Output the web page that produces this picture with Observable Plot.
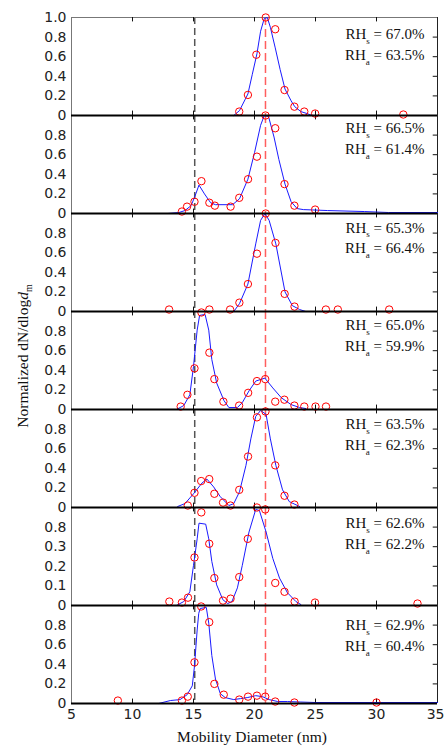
<!DOCTYPE html>
<html><head><meta charset="utf-8">
<script src="https://cdn.jsdelivr.net/npm/d3@7"></script>
<script src="https://cdn.jsdelivr.net/npm/@observablehq/plot@0.6"></script>
<style>body{margin:0;background:#fff} #wrap{position:relative;width:444px;height:751px}</style>
</head><body><div id="wrap"></div><script>
// ---- data ----
const panels = [1,2,3,4,5,6,7];
const rhS = ["67.0%","66.5%","65.3%","65.0%","63.5%","62.6%","62.9%"];
const rhA = ["63.5%","61.4%","66.4%","59.9%","62.3%","62.2%","60.4%"];
const xTicks = [5,10,15,20,25,30,35];
const yTicks = [0,0.2,0.4,0.6,0.8,1.0];
const yTickLabels = ["0","0.2","0.4","0.6","0.8","1.0"];
const yTickLabelsP6 = ["0","0.1","0.2","0.3","0.8"];
const refLineGray = [15.1];
const refLineRed = [20.9];

const p1CircX = [18.75,19.46,20.15,20.92,21.7,22.46,23.27,24.08,24.97,32.2];
const p1CircY = [0.04,0.21,0.62,1.0,0.88,0.26,0.09,0.04,0.02,0.01];
const p1LineX = [18.3,18.77,19.46,19.82,20.2,20.5,20.8,21.05,21.3,21.7,22.1,22.5,23.0,23.3,23.8,24.3,24.7];
const p1LineY = [0,0.05,0.22,0.42,0.63,0.86,0.99,1.0,0.9,0.69,0.47,0.27,0.15,0.09,0.04,0.02,0];

const p2CircX = [14.05,14.47,15.08,15.65,16.3,16.75,18.04,18.75,19.47,20.2,20.9,21.7,22.46,23.27,24.97];
const p2CircY = [0.02,0.07,0.12,0.33,0.11,0.08,0.07,0.16,0.35,0.58,1.0,0.87,0.30,0.08,0.04];
const p2LineX = [12.9,13.8,14.3,14.8,15.1,15.45,15.9,16.4,16.8,17.5,18.2,18.77,19.46,20.0,20.5,20.8,21.15,21.6,22.0,22.5,23.0,23.5,24.0,26.0,29.0,31.0,35.0];
const p2LineY = [0,0.01,0.03,0.08,0.17,0.29,0.2,0.11,0.09,0.09,0.09,0.15,0.35,0.62,0.9,1.0,0.99,0.78,0.55,0.3,0.12,0.05,0.04,0.03,0.02,0.01,0.01];

const p3CircX = [13.0,18.0,18.76,19.46,20.2,20.92,21.72,22.47,23.28,25.85,26.83,31.04];
const p3CircY = [0.02,0.02,0.09,0.28,0.59,1.0,0.70,0.18,0.05,0.02,0.02,0.02];
const p3LineX = [18.3,18.77,19.46,20.1,20.5,20.85,21.2,21.75,22.5,23.1,23.7,24.2];
const p3LineY = [0,0.08,0.28,0.69,0.93,1.0,0.93,0.69,0.2,0.06,0.02,0];

const p4CircX = [13.95,14.5,15.08,15.65,16.3,16.3,16.71,17.45,18.74,19.48,20.2,20.88,21.7,22.45,23.27,24.08,25.0,25.86];
const p4CircY = [0.03,0.15,0.42,0.99,1.02,0.58,0.31,0.08,0.04,0.17,0.29,0.31,0.08,0.10,0.04,0.03,0.03,0.03];
const p4LineX = [13.6,14.2,14.7,15.0,15.3,15.5,15.95,16.25,16.5,16.9,17.5,17.9,18.6,19.0,19.55,20.1,20.85,21.5,22.2,23.0,23.7,24.2];
const p4LineY = [0,0.04,0.15,0.44,0.81,0.96,0.97,0.81,0.51,0.27,0.09,0.02,0.02,0.07,0.19,0.29,0.32,0.22,0.12,0.05,0.02,0.01];

const p5CircX = [14.53,15.08,15.63,16.29,16.71,17.42,18.03,18.75,19.47,20.2,20.9,21.7,22.46,23.27];
const p5CircY = [0.02,0.15,0.27,0.29,0.14,0.05,0.02,0.18,0.52,0.92,0.98,0.43,0.12,0.03];
const p5LineX = [13.7,14.3,15.0,15.7,16.1,16.65,17.2,17.9,18.3,18.77,19.3,19.7,20.1,20.5,20.95,21.3,21.75,22.3,22.85,23.7];
const p5LineY = [0.01,0.04,0.14,0.25,0.29,0.21,0.11,0.02,0.04,0.16,0.43,0.70,0.93,0.99,0.95,0.70,0.43,0.18,0.06,0.01];

const p6CircX = [13.02,14.05,14.55,15.08,15.64,16.29,16.71,17.42,18.04,18.75,19.45,20.2,20.88,21.7,22.46,23.29,24.96,33.36];
const p6CircY = [0.04,0.03,0.08,0.49,0.95,0.63,0.28,0.05,0.07,0.29,0.68,1.0,0.98,0.23,0.14,0.04,0.03,0.02];
const p6LineX = [13.6,14.2,14.7,15.0,15.3,15.45,16.0,16.25,16.5,16.9,17.4,17.8,18.15,18.6,19.0,19.55,20.1,20.4,20.95,21.5,22.05,22.7,23.4,23.8];
const p6LineY = [0,0.04,0.14,0.41,0.68,0.84,0.83,0.68,0.45,0.21,0.06,0.02,0.04,0.18,0.41,0.75,0.98,0.97,0.75,0.48,0.28,0.13,0.04,0.01];

const p7CircX = [8.8,14.05,14.53,15.08,15.63,16.29,16.71,17.48,18.75,19.47,20.2,20.88,21.7,23.27,30.0];
const p7CircY = [0.03,0.03,0.07,0.42,0.99,0.83,0.20,0.09,0.04,0.07,0.08,0.07,0.02,0.01,0.01];
const p7LineX = [12.15,13.1,13.9,14.48,14.9,15.08,15.3,15.43,15.55,16.05,16.25,16.5,16.8,17.2,17.6,18.3,18.85,19.4,20.1,20.65,21.2,21.9,22.7,23.8,25.0,35.0];
const p7LineY = [0,0.03,0.04,0.09,0.18,0.38,0.75,0.92,0.97,0.98,0.82,0.49,0.25,0.10,0.06,0.04,0.05,0.06,0.08,0.07,0.04,0.02,0.02,0.015,0.01,0.01];

// ---- layout (not data) ----
const W = 444, H = 751, mL = 71, mR = 7, mT = 14, mB = 46;
const facetH = (H - mT - mB) / panels.length;
const rhOffsetPx = [17,13,14.3,14,15,16,20.3];

// ---- build tables ----
const circX = [p1CircX,p2CircX,p3CircX,p4CircX,p5CircX,p6CircX,p7CircX];
const circY = [p1CircY,p2CircY,p3CircY,p4CircY,p5CircY,p6CircY,p7CircY];
const lineX = [p1LineX,p2LineX,p3LineX,p4LineX,p5LineX,p6LineX,p7LineX];
const lineY = [p1LineY,p2LineY,p3LineY,p4LineY,p5LineY,p6LineY,p7LineY];
const circleRows = [], lineRows = [], tickRows = [], rhRows = [];
panels.forEach((p, i) => {
  circX[i].forEach((x, j) => circleRows.push({panel: p, x, y: circY[i][j]}));
  lineX[i].forEach((x, j) => lineRows.push({panel: p, x, y: lineY[i][j]}));
  const labels = p === 6 ? yTickLabelsP6 : (p === 1 ? yTickLabels : yTickLabels.slice(0, 5));
  labels.forEach((lab, j) => tickRows.push({panel: p, v: yTicks[j], label: lab}));
  rhRows.push({panel: p, text: "RHs = " + rhS[i], y: 1 - rhOffsetPx[i] / facetH});
  rhRows.push({panel: p, text: "RHa = " + rhA[i], y: 1 - (rhOffsetPx[i] + 20.5) / facetH});
});
const lastPanel = panels[panels.length - 1];
const xLabelRows = xTicks.slice(0, -1).map(v => ({panel: lastPanel, v, label: String(v)}));
const xLabelLast = xTicks.slice(-1).map(v => ({panel: lastPanel, v, label: String(v)}));

const innerXTicks = xTicks.slice(1, -1);
const chart = Plot.plot({
  width: W, height: H,
  marginLeft: mL, marginRight: mR, marginTop: mT, marginBottom: mB,
  style: {fontFamily: "'DejaVu Sans', sans-serif", fontSize: "14px", background: "white", overflow: "visible", color: "#222"},
  x: {domain: [5, 35], axis: null},
  y: {domain: [0, 1], axis: null},
  fy: {domain: panels, axis: null, padding: 0},
  marks: [
    Plot.ruleX(refLineGray, {stroke: "#555", strokeWidth: 1.5, strokeDasharray: "7,4"}),
    Plot.ruleX(refLineRed, {stroke: "#ff5f5f", strokeWidth: 1.5, strokeDasharray: "8,4"}),
    Plot.ruleX([5], {stroke: "#777", strokeWidth: 1}),
    Plot.ruleX([35], {stroke: "#222", strokeWidth: 1}),
    Plot.ruleY([{panel: 1}], {fy: "panel", y: () => 1, stroke: "#777", strokeWidth: 1}),
    Plot.ruleX(innerXTicks, {y1: 0, y2: 0.045, stroke: "#111"}),
    Plot.ruleX(innerXTicks, {y1: 1, y2: 0.955, stroke: "#111"}),
    Plot.ruleY([0.2, 0.4, 0.6, 0.8], {x1: 34.65, x2: 35, stroke: "#111"}),
    Plot.text(tickRows, {fy: "panel", y: "v", text: "label", frameAnchor: "left", textAnchor: "end", dx: -5, fill: "#222"}),
    Plot.text(xLabelRows, {fy: "panel", x: "v", text: "label", frameAnchor: "bottom", lineAnchor: "top", dy: 6, fill: "#222"}),
    Plot.text(xLabelLast, {fy: "panel", x: "v", text: "label", frameAnchor: "bottom", lineAnchor: "top", textAnchor: "end", dx: 7, dy: 6, fill: "#222"}),
    Plot.line(lineRows, {fy: "panel", x: "x", y: "y", stroke: "#1a1aff", strokeWidth: 1}),
    Plot.dot(circleRows, {fy: "panel", x: "x", y: "y", r: 3.7, stroke: "#ff0000", strokeWidth: 1, fill: "none"}),
    Plot.ruleY([0], {stroke: "#000", strokeWidth: 2}),
    Plot.text(rhRows, {fy: "panel", y: "y", text: "text", frameAnchor: "right", textAnchor: "end", dx: -13,
      fontFamily: "'Liberation Serif', 'Times New Roman', serif", fontSize: 15, fill: "#111"})
  ]
});
document.getElementById("wrap").appendChild(chart);

// subscripts for RH labels
const svg = d3.select(chart);
svg.selectAll("text").each(function() {
  const t = this.textContent;
  const m = /^RH([sa]) (.*)$/.exec(t);
  if (!m || this.querySelector("tspan")) return;
  const el = d3.select(this);
  el.text(null);
  el.append("tspan").text("RH");
  el.append("tspan").attr("dy", 5).attr("font-size", 9).text(m[1]);
  el.append("tspan").attr("dy", -5).text(" " + m[2]);
});

// axis titles
svg.append("text").attr("x", 252).attr("y", 742).attr("text-anchor", "middle")
  .attr("font-family", "'Liberation Serif', 'Times New Roman', serif").attr("font-size", 15.5).attr("fill", "#111")
  .text("Mobility Diameter (nm)");
const yl = svg.append("text").attr("transform", "translate(28,356) rotate(-90)").attr("text-anchor", "middle")
  .attr("font-family", "'Liberation Serif', 'Times New Roman', serif").attr("font-size", 15.5).attr("fill", "#111");
yl.append("tspan").text("Normalized dN/dlog");
yl.append("tspan").attr("font-style", "italic").text("d");
yl.append("tspan").attr("dy", 4).attr("font-size", 10).text("m");
</script></body></html>
